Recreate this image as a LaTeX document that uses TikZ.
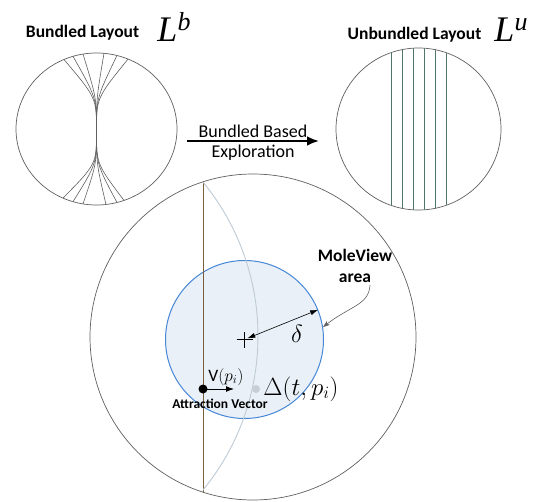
\documentclass[tikz,border=0pt]{standalone}
\usepackage{fontspec}
\setsansfont{Carlito}
\newfontfamily\tnr{Liberation Serif}
\usetikzlibrary{arrows.meta}
\definecolor{outl}{RGB}{95,95,95}
\definecolor{edgec}{RGB}{80,118,105}
\definecolor{brownl}{RGB}{120,95,60}
\definecolor{arcc}{RGB}{190,202,212}
\definecolor{mvblue}{RGB}{70,135,215}
\definecolor{mvfill}{RGB}{234,240,247}
\definecolor{dotgray}{RGB}{198,206,216}
\newcommand{\bigL}[1]{{\tnr\itshape\fontsize{36}{36}\selectfont L\raisebox{11pt}{\fontsize{26}{26}\selectfont #1}}}
\begin{document}
\begin{tikzpicture}[x=1pt,y=-1pt,
  outline/.style={draw=outl, line width=0.7pt},
  bundle/.style={draw=outl, line width=0.6pt},
  edgeline/.style={draw=edgec, line width=0.7pt},
  boldlbl/.style={font=\sffamily\bfseries\fontsize{17.5}{21}\selectfont, inner sep=0, align=center},
  plainlbl/.style={font=\sffamily\fontsize{18}{20}\selectfont, inner sep=0, align=center},
  mathlbl/.style={font=\fontsize{23}{23}\selectfont, inner sep=0},
  dotnode/.style={circle, inner sep=0, minimum size=#1},
]
\useasboundingbox (0,0) rectangle (545,502);

% ---------- left bundled layout ----------
\draw[outline] (96.5,129) ellipse [x radius=80.5, y radius=76];
\foreach \xt/\yt/\xb/\yb in {64/59.5/63/198.1, 73/56.3/73/201.7, 83/54.1/83/203.9, 104/53.3/106/204.5, 117/55.5/117/202.5, 128/59.1/124/200.4}
  \draw[bundle] (\xt,\yt) .. controls (96.5,98) .. (96.5,131) .. controls (96.5,164) .. (\xb,\yb);
\node[boldlbl] (bl) at (82.5,33) {Bundled Layout};
\node[inner sep=0] (lb) at (174,27) {\bigL{b}};

% ---------- right unbundled layout ----------
\draw[outline] (418.5,129) ellipse [x radius=82.5, y radius=81];
\begin{scope}
  \clip (418.5,129) ellipse [x radius=82.5, y radius=81];
  \foreach \x in {391,402,413,424,435,446}
    \draw[edgeline] (\x,40) -- (\x,220);
\end{scope}
\node[boldlbl] (ul) at (414.5,35) {Unbundled Layout};
\node[inner sep=0] (lu) at (511,30) {\bigL{u}};

% ---------- transition arrow ----------
\coordinate (ta) at (187,141);
\coordinate (tb) at (319,141);
\draw[line width=2.6pt, -{Latex[length=12pt,width=10pt]}] (ta) -- (tb);
\node[plainlbl] (t1) at (253,131) {Bundled Based};
\node[plainlbl] (t2) at (253,153) {Exploration};

% ---------- big lens circle ----------
\draw[outline] (253,337) circle [radius=163];
\node[circle, draw=mvblue, fill=mvfill, line width=1pt, minimum size=158pt, inner sep=0] (mv) at (244.5,339.5) {};

\begin{scope}
  \clip (253,337) circle [radius=163];
  \draw[brownl, line width=0.8pt] (203,150) -- (203,520);
\end{scope}
\coordinate (at) at (203,182);
\coordinate (ab) at (203,490);
\draw[arcc, line width=0.9pt] (at) .. controls (276.3,271.5) and (276.3,400.5) .. (ab);

% cross at centre
\draw[line width=0.6pt] ([xshift=-8pt]mv.center) -- ([xshift=8pt]mv.center)
                        ([yshift=-8pt]mv.center) -- ([yshift=8pt]mv.center);
% delta arrow
\draw[line width=0.6pt, {Latex[length=8pt,width=5pt]}-{Latex[length=8pt,width=5pt]}, shorten <=3pt] (mv.center) -- (mv.22.7);
\node[font=\fontsize{25}{25}\selectfont, inner sep=0] (dl) at (297,334) {$\delta$};

% MoleView area label and arrow
\node[boldlbl] (mvl) at (355,266) {MoleView\\area};
\coordinate (ms) at (370,285);
\draw[outl, line width=0.6pt, -{Stealth[length=7pt,width=5pt]}] (ms) .. controls (369,305) and (350,306) .. (mv.9);

% point and attraction vector
\node[dotnode=9pt, fill=black] (pa) at (203,389) {};
\coordinate (vt) at (234,389);
\draw[line width=1pt, -{Latex[length=8pt,width=6pt]}] (pa.center) -- (vt);
\node[inner sep=0, font=\fontsize{17.5}{18}\selectfont] (vl) at (226,377) {\sffamily V\normalfont$(p_i)$};
\node[font=\sffamily\bfseries\fontsize{13.5}{15}\selectfont, inner sep=0] (avl) at (220,404) {Attraction Vector};
\node[dotnode=8pt, fill=dotgray] (pt) at (256,389) {};
\node[mathlbl] (dt) at (301,389) {$\Delta(t,p_i)$};
\end{tikzpicture}
\end{document}
